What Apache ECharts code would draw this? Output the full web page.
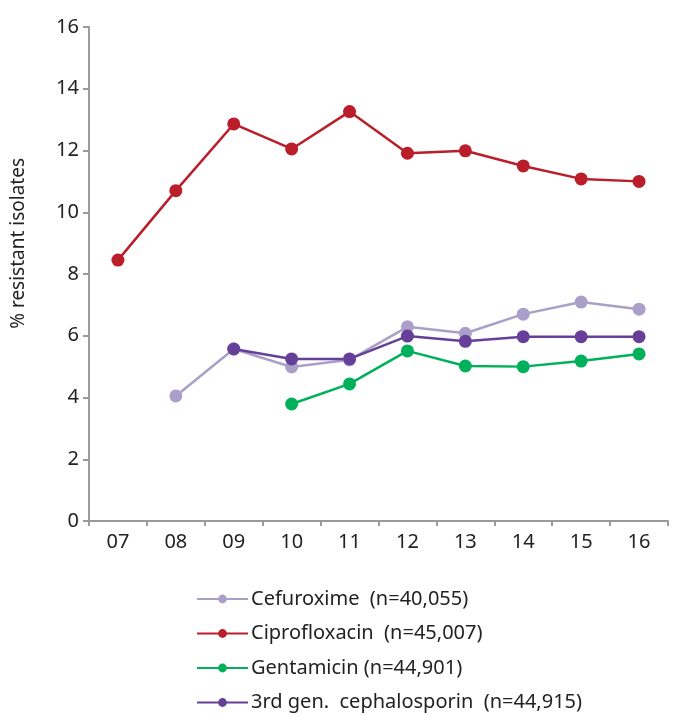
<!DOCTYPE html>
<html>
<head>
<meta charset="utf-8">
<script src="https://cdn.jsdelivr.net/npm/echarts@6/dist/echarts.min.js"></script>
<style>
  html, body { margin: 0; padding: 0; background: #fff; }
  #chart { width: 673px; height: 716px; }
</style>
</head>
<body>
<div id="chart"></div>
<script>
const years = ["07", "08", "09", "10", "11", "12", "13", "14", "15", "16"]
const cefuroxime = [null, 4.05, 5.57, 4.99, 5.22, 6.29, 6.08, 6.7, 7.09, 6.86]
const ciprofloxacin = [8.45, 10.7, 12.86, 12.05, 13.26, 11.91, 11.99, 11.5, 11.08, 11.0]
const gentamicin = [null, null, null, 3.79, 4.44, 5.51, 5.02, 5.0, 5.18, 5.41]
const cephalosporin = [null, null, 5.57, 5.25, 5.25, 5.99, 5.82, 5.97, 5.97, 5.97]

const names = [
  "Cefuroxime  (n=40,055)",
  "Ciprofloxacin  (n=45,007)",
  "Gentamicin (n=44,901)",
  "3rd gen.  cephalosporin  (n=44,915)"
]
const colors = ["#a99fc9", "#b91e2a", "#00b05a", "#663f98"]
const font = "Noto Sans"

const chart = echarts.init(document.getElementById("chart"), null, { renderer: "canvas" })

const lineSeries = (name, data, color) => ({
  name,
  type: "line",
  data,
  color,
  symbol: "circle",
  symbolSize: 13,
  lineStyle: { width: 2.5, color },
  itemStyle: { color },
  connectNulls: false
})

chart.setOption({
  animation: false,
  textStyle: { fontFamily: font },
  grid: { left: 89, right: 5, top: 27, bottom: 195 },
  xAxis: {
    type: "category",
    data: years,
    boundaryGap: true,
    axisLine: { lineStyle: { color: "#9a9a9a", width: 2 } },
    axisTick: { show: true, length: 5, lineStyle: { color: "#9a9a9a", width: 2 } },
    axisLabel: { color: "#222", fontSize: 20, margin: 11, fontFamily: font }
  },
  yAxis: {
    type: "value",
    min: 0,
    max: 16,
    interval: 2,
    splitLine: { show: false },
    axisLine: { show: true, lineStyle: { color: "#9a9a9a", width: 2 } },
    axisTick: { show: true, length: 6, lineStyle: { color: "#9a9a9a", width: 2 } },
    axisLabel: { color: "#222", fontSize: 20, margin: 10, fontFamily: font }
  },
  graphic: [{
    type: "text",
    left: 9,
    top: 158,
    rotation: Math.PI / 2,
    style: { text: "% resistant isolates", fontSize: 19, fill: "#222", fontFamily: font }
  }],
  legend: {
    orient: "vertical",
    left: 196,
    top: 589,
    height: 200,
    padding: 0,
    itemWidth: 51,
    itemHeight: 11,
    itemGap: 14.5,
    textStyle: { color: "#222", fontSize: 20, fontFamily: font, padding: [0, 0, 0, -2] },
    data: names
  },
  series: [
    lineSeries(names[0], cefuroxime, colors[0]),
    lineSeries(names[1], ciprofloxacin, colors[1]),
    lineSeries(names[2], gentamicin, colors[2]),
    lineSeries(names[3], cephalosporin, colors[3])
  ]
})
</script>
</body>
</html>
